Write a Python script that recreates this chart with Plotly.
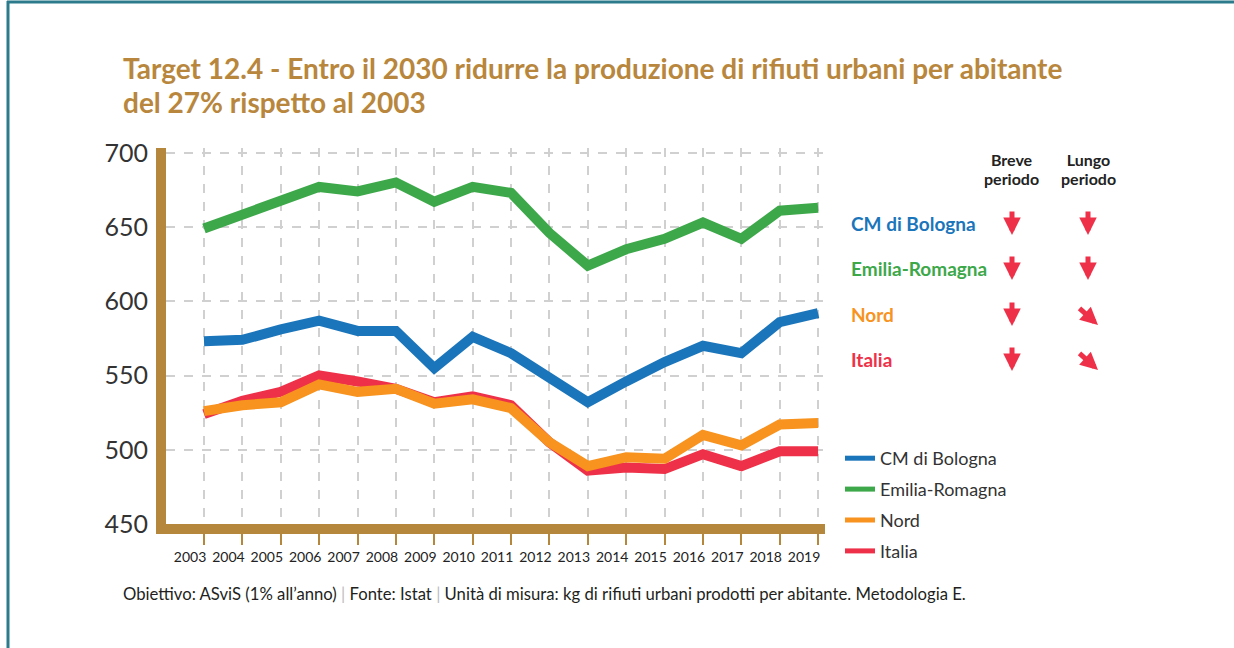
import plotly.graph_objects as go

years = list(range(2003, 2020))
bologna = [573, 574, 581, 587, 580, 580, 555, 576, 565, 548, 532, 546, 559, 570, 565, 586, 592]
emilia = [649, 658, 667, 677, 674, 680, 667, 677, 673, 646, 624, 635, 642, 653, 642, 661, 663]
nord = [526, 530, 532, 544, 539, 541, 531, 534, 528, 505, 489, 495, 494, 510, 503, 517, 518]
italia = [524, 533, 539, 550, 546, 541, 532, 536, 530, 505, 486, 488, 487, 497, 489, 499, 499]

names = ["CM di Bologna", "Emilia-Romagna", "Nord", "Italia"]
colors = ["#1b75bb", "#3da84a", "#f7931e", "#ee3148"]
ytick_vals = [450, 500, 550, 600, 650, 700]
trend_breve = ["down", "down", "down", "down"]
trend_lungo = ["down", "down", "diag", "diag"]

BROWN = "#b5873d"
FONT = "Lato"

L, R, T, B = 166, 825, 148, 524
W, H = 1234, 648


def px(x):
    return (x - L) / (R - L)


def py(y):
    return (B - y) / (B - T)


fig = go.Figure()
series = [bologna, emilia, nord, italia]
# draw Italia before Nord so Nord sits on top
for i in [0, 1, 3, 2]:
    fig.add_trace(go.Scatter(
        x=years, y=series[i], mode="lines", name=names[i],
        line=dict(color=colors[i], width=10), showlegend=False,
    ))
# legend entries (thinner legend symbols)
for i in range(4):
    fig.add_trace(go.Scatter(
        x=[None], y=[None], mode="lines", name=names[i],
        line=dict(color=colors[i], width=5), showlegend=True,
        legendgroup=f"g{i}",
    ))

fig.update_layout(
    width=W, height=H,
    margin=dict(l=L, r=W - R, t=T, b=H - B, pad=0),
    paper_bgcolor="white", plot_bgcolor="white",
    font=dict(family=FONT, color="#333333"),
    showlegend=True,
    legend=dict(
        x=px(840), y=py(440), xanchor="left", yanchor="top",
        font=dict(size=18, color="#333333", family=FONT),
        bgcolor="rgba(0,0,0,0)", traceorder="grouped",
        tracegroupgap=4.5,
    ),
    xaxis=dict(
        range=[2002.01, 2019.18],
        tickmode="array", tickvals=years, ticktext=[str(y) for y in years],
        showline=True, linecolor=BROWN, linewidth=10,
        ticks="outside", ticklen=11, tickwidth=2, tickcolor=BROWN,
        tickfont=dict(size=14, color="#222222", family=FONT),
        ticklabelshift=-14,
        showgrid=True, gridcolor="#d0d0d0", gridwidth=1.5, griddash="dash",
        zeroline=False, fixedrange=True,
    ),
    yaxis=dict(
        range=[450, 703.2],
        tickmode="array", tickvals=ytick_vals,
        showline=True, linecolor=BROWN, linewidth=10,
        ticks="", tickfont=dict(size=25, color="#333333", family=FONT),
        ticklabelstandoff=3,
        showgrid=True, gridcolor="#d0d0d0", gridwidth=1.5, griddash="dash",
        zeroline=False, fixedrange=True,
    ),
)

annotations = []
# Title: base size sets line spacing, glyphs drawn at 28px
title_lines = ["Target 12.4 - Entro il 2030 ridurre la produzione di rifiuti urbani per abitante",
               "del 27% rispetto al 2003"]
annotations.append(dict(
    xref="paper", yref="paper", x=px(121), y=py(85), xanchor="left", yanchor="middle",
    align="left", showarrow=False,
    text="<br>".join(f"<span style='font-size:28px'><b>{t}</b></span>" for t in title_lines),
    font=dict(size=26.2, color="#b8873d", family=FONT),
))
# Column headers
for cx, l1, l2 in [(1012, "Breve", "periodo"), (1088, "Lungo", "periodo")]:
    annotations.append(dict(
        xref="paper", yref="paper", x=px(cx), y=py(168.5), xanchor="center", yanchor="middle",
        align="center", showarrow=False,
        text=f"<span style='font-size:16px'><b>{l1}</b></span><br><span style='font-size:16px'><b>{l2}</b></span>",
        font=dict(size=14.8, color="#222222", family=FONT),
    ))
row_y = [223, 268, 314, 359]
for i, nm in enumerate(names):
    annotations.append(dict(
        xref="paper", yref="paper", x=px(849), y=py(row_y[i]), xanchor="left", yanchor="middle",
        showarrow=False, text=f"<b>{nm}</b>",
        font=dict(size=19, color=colors[i], family=FONT),
    ))
    for cx, tr in [(1012, trend_breve[i]), (1088, trend_lungo[i])]:
        if tr == "down":
            hx, hy, ax, ay = cx, row_y[i] + 12, 0, -25
        else:
            hx, hy, ax, ay = cx + 10, row_y[i] + 11, -20, -18
        annotations.append(dict(
            xref="paper", yref="paper", x=px(hx), y=py(hy), ax=ax, ay=ay,
            showarrow=True, text="", arrowhead=2, arrowsize=0.7, arrowwidth=5,
            arrowcolor="#ee3148", standoff=0, startstandoff=0,
        ))
# Footer
annotations.append(dict(
    xref="paper", yref="paper", x=px(121), y=py(594), xanchor="left", yanchor="middle",
    showarrow=False,
    text=("Obiettivo: ASviS (1% all\u2019anno) <span style='color:#bbbbbb'>|</span> Fonte: Istat "
          "<span style='color:#bbbbbb'>|</span> Unit\u00e0 di misura: kg di rifiuti urbani prodotti per abitante. Metodologia E."),
    font=dict(size=16.7, color="#231f20", family=FONT),
))
fig.update_layout(annotations=annotations)

TEAL = "#2b7b8c"
fig.add_shape(type="line", xref="paper", yref="paper", x0=px(8), x1=px(8), y0=py(1), y1=py(660),
              line=dict(color=TEAL, width=3))
fig.add_shape(type="line", xref="paper", yref="paper", x0=px(7), x1=px(1240), y0=py(2), y1=py(2),
              line=dict(color=TEAL, width=3))

fig.write_html(
    "out.html",
    config={"displayModeBar": False},
    post_script="document.body.style.margin='0';document.body.style.overflow='hidden';",
)
